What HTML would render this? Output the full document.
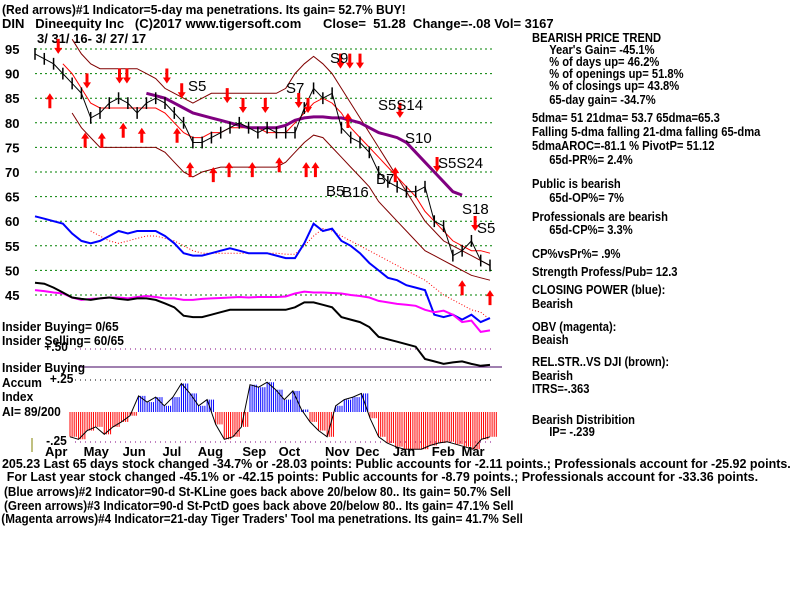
<!DOCTYPE html>
<html><head><meta charset="utf-8">
<style>
body{margin:0;background:#fff;width:800px;height:600px;overflow:hidden;font-family:"Liberation Sans",sans-serif;}
svg{position:absolute;left:0;top:0}
.t{font-family:"Liberation Sans",sans-serif;font-size:13px;font-weight:bold;fill:#000}
.lbl{font-family:"Liberation Sans",sans-serif;font-size:15px;fill:#000}
</style></head>
<body>
<svg id="c" width="800" height="600" xmlns="http://www.w3.org/2000/svg">
<g>
<g transform="translate(2,0) scale(0.93,1)"><text class="t" x="0" y="14">(Red arrows)#1 Indicator=5-day ma penetrations. Its gain= 52.7% BUY!</text></g>
<text class="t" x="2" y="28" xml:space="preserve">DIN   Dineequity Inc   (C)2017 www.tigersoft.com      Close=  51.28  Change=-.08 Vol= 3167</text>
<text class="t" x="37" y="43">3/ 31/ 16- 3/ 27/ 17</text>
</g>
<g id="grid"></g>
<g id="ylab"></g>
<g id="series"></g>
<g id="acc"></g>
<g id="arrows"></g>
<g>
<text class="lbl" x="188" y="91">S5</text><text class="lbl" x="286" y="93">S7</text>
<text class="lbl" x="330" y="63">S9</text><text class="lbl" x="378" y="110">S5S14</text>
<text class="lbl" x="405" y="143">S10</text><text class="lbl" x="438" y="168">S5S24</text>
<text class="lbl" x="326" y="196">B5</text><text class="lbl" x="342" y="197">B16</text>
<text class="lbl" x="376" y="184">B7</text><text class="lbl" x="462" y="214">S18</text>
<text class="lbl" x="477" y="233">S5</text>
</g>
<g transform="translate(2,0) scale(0.92,1)">
<text class="t" x="0" y="331">Insider Buying= 0/65</text>
<text class="t" x="0" y="345">Insider Selling= 60/65</text>
<text class="t" x="46" y="351">+.50</text>
<text class="t" x="0" y="372">Insider Buying</text>
<text class="t" x="0" y="387">Accum</text><text class="t" x="52" y="383">+.25</text>
<text class="t" x="0" y="401">Index</text>
<text class="t" x="0" y="416">AI= 89/200</text>
<text class="t" x="48" y="445">-.25</text>
</g>
<line x1="32" x2="32" y1="438" y2="452" stroke="#808000"/>
<g id="months"></g>
<g transform="translate(532,0) scale(0.86,1)">
<text class="t" x="0" y="42">BEARISH PRICE TREND</text>
<text class="t" x="20" y="54">Year's Gain= -45.1%</text>
<text class="t" x="20" y="66">% of days up= 46.2%</text>
<text class="t" x="20" y="78">% of openings up= 51.8%</text>
<text class="t" x="20" y="90">% of closings up= 43.8%</text>
<text class="t" x="20" y="104">65-day gain= -34.7%</text>
<text class="t" x="0" y="122">5dma= 51 21dma= 53.7 65dma=65.3</text>
<text class="t" x="0" y="136">Falling 5-dma falling 21-dma falling 65-dma</text>
<text class="t" x="0" y="150">5dmaAROC=-81.1 %  PivotP= 51.12</text>
<text class="t" x="20" y="164">65d-PR%= 2.4%</text>
<text class="t" x="0" y="188">Public is bearish</text>
<text class="t" x="20" y="202">65d-OP%= 7%</text>
<text class="t" x="0" y="221">Professionals are bearish</text>
<text class="t" x="20" y="234">65d-CP%= 3.3%</text>
<text class="t" x="0" y="258">CP%vsPr%=  .9%</text>
<text class="t" x="0" y="276">Strength Profess/Pub= 12.3</text>
<text class="t" x="0" y="294">CLOSING POWER (blue):</text>
<text class="t" x="0" y="308">Bearish</text>
<text class="t" x="0" y="331">OBV (magenta):</text>
<text class="t" x="0" y="344">Beaish</text>
<text class="t" x="0" y="366">REL.STR..VS DJI (brown):</text>
<text class="t" x="0" y="380">Bearish</text>
<text class="t" x="0" y="393">ITRS=-.363</text>
<text class="t" x="0" y="424">Bearish Distribition</text>
<text class="t" x="20" y="436">IP= -.239</text>
</g>
<g>
<g transform="translate(2,0) scale(0.96,1)">
<text class="t" x="0" y="468">205.23 Last 65 days stock changed -34.7% or -28.03 points:  Public accounts for -2.11 points.;  Professionals account for -25.92 points.</text>
<text class="t" x="5" y="481">For Last year stock changed -45.1% or -42.15 points:  Public accounts for -8.79 points.;  Professionals account for -33.36 points.</text>
</g>
<g transform="translate(4,0) scale(0.9,1)">
<text class="t" x="0" y="496">(Blue arrows)#2 Indicator=90-d St-KLine goes back above 20/below 80.. Its gain= 50.7% Sell</text>
<text class="t" x="0" y="510">(Green arrows)#3 Indicator=90-d St-PctD goes back above 20/below 80.. Its gain= 47.1% Sell</text>
<text class="t" x="-3" y="523">(Magenta arrows)#4 Indicator=21-day Tiger Traders' Tool ma penetrations. Its gain= 41.7% Sell</text>
</g>
</g>
</svg>
<script>
const price=[94,93,92,90,88,86,81,82,84,85,84,82,84,85,84,82,80,76,76,77,78,79,80,79,78,79,78,78,78,83,87,85,86,79,77,76,74,70,68,67,66,66,67,60,59,53,54,56,52,51];
const closingPower=[61,60.5,60,59.5,57.5,56,55.5,56,57,58,57.5,58,58,58,57,55.5,53.5,53,53,53.5,54,54.5,54,53.5,53.5,53.5,53,52.5,52.5,55.5,59.5,58,58.5,56,55,53.5,51.5,50,48.5,48,47,46.5,46,41,40.5,41,40,41,39.5,40.3];
const obv=[46,45.8,45.5,45.3,44.5,44,44.2,44.3,44.5,44.5,44.3,44.6,44.8,44.6,44.3,44.3,44,44,44.2,44.3,44.4,44.5,44.6,44.5,44.6,44.6,44.6,44.7,45.3,45.7,45.5,45.5,45.4,45.3,45,44.8,44.5,43.8,43.5,43.2,43,42.8,42,41.5,41.8,41,39.5,39.8,37.5,37.8];
const relStr=[47.5,47.3,46.5,45.5,44.5,44.2,44,44.3,44.5,44.2,44,44.3,44.3,44,43.3,42.5,40.8,40.5,40.5,41,41.5,42,42,42,42,42,42,42,42.5,43.5,43.5,43,42.5,40.5,40,39.5,38.5,36.5,36,35.5,35,34.5,32,31.5,31,31.3,31.5,31,30.6,30.8];
const upperBand=[null,null,null,null,97,94,92,91,91,91,91,91,90,89,87,86,85,84,85,86,86,86,86,86,86,86,86,87,90,92,93.5,92,90,87,84,81,78,75,72,69,66,63,60,58,56,55,54,53,52,51];
const lowerBand=[null,null,null,null,82,79,77,75,75,75,75,75,75,75,74,72,70,69,70,70.5,71,71,71,71,71,71,71,72,74,76,77.5,77,75,73,71,69,67,64,62,60,58,56,54,53,52,51,50,49,48.5,48];
const ma21=[null,null,null,92,90,87,84,83,83,83,83,83,83,83,82,80,78,77,77,78,78,79,79,79,79,78,78,78,80,82,84,85,84,82,79,77,75,73,71,69,67,65,62,60,58,56,55,54,54,53.5];
const ma65=[null,null,null,null,null,null,null,null,null,null,null,null,86,85.5,85,84,83,82,81.5,81,80.5,80,79.5,79,79,79,79,79.5,80.5,81,81.2,81.2,81,81,80.5,80,79,78,77.5,77,76,74,72,70,68,66,65.3,null,null,null];
const cpMa=[null,null,null,null,null,null,58,57,56,55.5,56,56.5,57,57,56.5,56,55,54,53.5,53.5,53.5,53.5,53.5,53.5,53.5,53.5,53.5,53.3,53.3,55,57,58.5,58,57,56,55,54,53,52,51,50,49,48,46.5,45,44,43,42,41.5,40];
const accum=[-0.2,-0.22,-0.15,-0.12,-0.18,-0.12,-0.08,-0.03,0.13,0.08,0.12,0.05,0.12,0.23,0.15,0.05,0.1,-0.1,-0.22,-0.2,-0.12,0.22,0.2,0.24,0.18,0.1,0.17,0.02,-0.08,-0.15,-0.2,0.05,0.1,0.12,0.15,-0.05,-0.2,-0.25,-0.28,-0.3,-0.3,-0.3,-0.27,-0.25,-0.24,-0.26,-0.28,-0.3,-0.22,-0.2];
const priceTicks=[95,90,85,80,75,70,65,60,55,50,45];
const months=["Apr","May","Jun","Jul","Aug","Sep","Oct","Nov","Dec","Jan","Feb","Mar"];
const monthIdx=[2.05,6.2,10.4,14.7,18.5,23.3,27.2,32.2,35.5,39.5,43.7,46.9];
const upI=[1.6,5.4,7.2,9.5,11.5,15.3,16.7,19.2,20.9,23.4,26.3,29.2,30.2,33.7,38.8,46,49];
const upP=[86,78,78,80,79,79,72,71,72,72,73,72,72,82,71,48,46];
const dnI=[2.5,5.6,9.1,9.9,14.2,15.8,20.7,22.4,24.8,28.4,29.4,32.9,33.9,35,39.3,43.3,47.4];
const dnP=[94,87,88,88,88,85,84,82,82,83,82,91,91,91,81,70,58];

const NS="http://www.w3.org/2000/svg";
const X=i=>35+i*(455/49);
const Y=p=>49+(95-p)*4.92;
const AX=i=>70+i*(420/49);
const AY=v=>412-v*124;
function mk(tag,attrs,parent){const e=document.createElementNS(NS,tag);for(const k in attrs)e.setAttribute(k,attrs[k]);parent.appendChild(e);return e;}
const G=id=>document.getElementById(id);
priceTicks.forEach(p=>{
  const l=mk('line',{x1:35,x2:492,y1:Y(p),y2:Y(p),stroke:'#008000','stroke-dasharray':'2,3'},G('grid'));
  
  
  const t=mk('text',{x:5,y:Y(p)+5,class:'t','font-size':'14'},G('ylab'));t.textContent=p;
  
  
});
[[349,'#800080'],[380,'#000'],[442,'#800080']].forEach(([y,c])=>{
  const l=mk('line',{x1:75,x2:492,y1:y,y2:y,stroke:c,'stroke-dasharray':'1,4'},G('grid'));
  
  
});
const ib=mk('line',{x1:80,x2:502,y1:367,y2:367,stroke:'#400060'},G('grid'));


function line(arr,color,w,dash,name){
  let d='',pen=false;
  arr.forEach((v,i)=>{if(v==null){pen=false;return;}d+=(pen?'L':'M')+X(i).toFixed(1)+' '+Y(v).toFixed(1);pen=true;});
  const p=mk('path',{d:d,fill:'none',stroke:color,'stroke-width':w},G('series'));
  if(dash)p.setAttribute('stroke-dasharray',dash);
  
  
}
line(upperBand,'#800000',1,null,'upper-band');
line(lowerBand,'#800000',1,null,'lower-band');
line(ma21,'#ff0000',1,null,'ma21-line');
line(ma65,'#800080',3,null,'ma65-line');
line(cpMa,'#ff0000',1,'1,2','cp-ma-line');
line(closingPower,'#0000ff',2,null,'closing-power-line');
line(obv,'#ff00ff',2,null,'obv-line');
line(relStr,'#000000',2,null,'rel-strength-line');
price.forEach((p,i)=>{
  const b=mk('line',{x1:X(i),x2:X(i),y1:Y(p+1.2),y2:Y(p-1.2),stroke:'#000','stroke-width':1.5},G('series'));
  
  
  if(i<price.length-1){
    const s=mk('line',{x1:X(i),x2:X(i+1),y1:Y(p),y2:Y(price[i+1]),stroke:'#000','stroke-width':1},G('series'));
    
    
  }
});
accum.forEach((v,i)=>{
  for(let k=0;k<4;k++){
    const x=AX(i)+k*2.1;
    const r=mk('line',{x1:x,x2:x,y1:412,y2:AY(v),stroke:v>=0?'#0000ff':'#ff0000','stroke-width':1},G('acc'));
    
    
  }
});
let ad='';accum.forEach((v,i)=>{ad+=(i?'L':'M')+AX(i).toFixed(1)+' '+AY(v).toFixed(1);});
const ap=mk('path',{d:ad,fill:'none',stroke:'#000','stroke-width':1},G('acc'));


months.forEach((m,i)=>{
  const t=mk('text',{x:X(monthIdx[i])-9,y:456,class:'t','font-size':'13'},G('months'));t.textContent=m;
  
  
});
function arrow(x,y,up){
  const d=up?`M${x} ${y}l-4 6h2.5v9h3v-9h2.5z`:`M${x} ${y}l-4 -6h2.5v-9h3v9h2.5z`;
  const a=mk('path',{d:d,fill:'#ff0000'},G('arrows'));
  
  
}
upI.forEach((v,k)=>arrow(X(v),Y(upP[k]),true));
dnI.forEach((v,k)=>arrow(X(v),Y(dnP[k]),false));
</script>
</body></html>
